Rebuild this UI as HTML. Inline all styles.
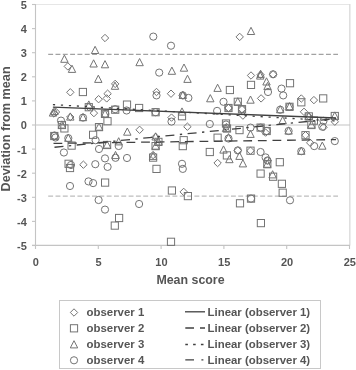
<!DOCTYPE html>
<html><head><meta charset="utf-8"><style>
html,body{margin:0;padding:0;background:#fff;}
body{width:356px;height:370px;overflow:hidden;}
svg{display:block;will-change:transform;filter:blur(0.3px);font-family:"Liberation Sans",sans-serif;}
</style></head><body>
<svg width="356" height="370" viewBox="0 0 356 370">
<rect width="356" height="370" fill="#fff"/>
<!-- frame -->
<line x1="35" y1="4.5" x2="350" y2="4.5" stroke="#e6e6e6" stroke-width="1"/>
<line x1="349.8" y1="4" x2="349.8" y2="245.5" stroke="#dcdcdc" stroke-width="1.4"/>
<g stroke="#c4c4c4" stroke-width="1.1">
<line x1="35.5" y1="4" x2="35.5" y2="246"/>
<line x1="32" y1="245.4" x2="350" y2="245.4"/>
<line x1="35.5" y1="125.0" x2="350" y2="125.0"/>
<line x1="32" y1="4.5" x2="35.5" y2="4.5"/><line x1="32" y1="28.6" x2="35.5" y2="28.6"/><line x1="32" y1="52.7" x2="35.5" y2="52.7"/><line x1="32" y1="76.8" x2="35.5" y2="76.8"/><line x1="32" y1="100.9" x2="35.5" y2="100.9"/><line x1="32" y1="125.0" x2="35.5" y2="125.0"/><line x1="32" y1="149.1" x2="35.5" y2="149.1"/><line x1="32" y1="173.2" x2="35.5" y2="173.2"/><line x1="32" y1="197.3" x2="35.5" y2="197.3"/><line x1="32" y1="221.4" x2="35.5" y2="221.4"/><line x1="32" y1="245.5" x2="35.5" y2="245.5"/>
<line x1="35.5" y1="245" x2="35.5" y2="249"/><line x1="98.3" y1="245" x2="98.3" y2="249"/><line x1="161.1" y1="245" x2="161.1" y2="249"/><line x1="223.9" y1="245" x2="223.9" y2="249"/><line x1="286.7" y1="245" x2="286.7" y2="249"/><line x1="349.5" y1="245" x2="349.5" y2="249"/>
</g>
<!-- limits -->
<g stroke="#a2a2a2" stroke-width="1.2" stroke-dasharray="4.9 2.41">
<line x1="48.2" y1="54.3" x2="338" y2="54.3"/>
<line x1="48.2" y1="196.1" x2="338" y2="196.1" stroke="#bdbdbd"/>
</g>
<!-- markers -->
<g fill="none" stroke="#747474" stroke-width="1.0">
<path d="M67.8 62.7L71.5 66.4L67.8 70.1L64.1 66.4Z"/><path d="M105.0 34.3L108.7 38.0L105.0 41.7L101.3 38.0Z"/><path d="M239.7 33.2L243.4 36.9L239.7 40.6L236.0 36.9Z"/><path d="M251.0 71.8L254.7 75.5L251.0 79.2L247.3 75.5Z"/><path d="M70.3 88.6L74.0 92.3L70.3 96.0L66.6 92.3Z"/><path d="M98.6 95.5L102.3 99.2L98.6 102.9L94.9 99.2Z"/><path d="M56.0 108.3L59.7 112.0L56.0 115.7L52.3 112.0Z"/><path d="M70.3 113.3L74.0 117.0L70.3 120.7L66.6 117.0Z"/><path d="M88.8 103.5L92.5 107.2L88.8 110.9L85.1 107.2Z"/><path d="M93.9 109.4L97.6 113.1L93.9 116.8L90.2 113.1Z"/><path d="M115.2 80.2L118.9 83.9L115.2 87.6L111.5 83.9Z"/><path d="M107.6 90.0L111.3 93.7L107.6 97.4L103.9 93.7Z"/><path d="M106.7 94.7L110.4 98.4L106.7 102.1L103.0 98.4Z"/><path d="M156.5 88.3L160.2 92.0L156.5 95.7L152.8 92.0Z"/><path d="M171.0 90.0L174.7 93.7L171.0 97.4L167.3 93.7Z"/><path d="M182.8 91.7L186.5 95.4L182.8 99.1L179.1 95.4Z"/><path d="M261.1 94.7L264.8 98.4L261.1 102.1L257.4 98.4Z"/><path d="M228.5 104.3L232.2 108.0L228.5 111.7L224.8 108.0Z"/><path d="M242.0 105.5L245.7 109.2L242.0 112.9L238.3 109.2Z"/><path d="M242.9 111.9L246.6 115.6L242.9 119.3L239.2 115.6Z"/><path d="M273.1 70.6L276.8 74.3L273.1 78.0L269.4 74.3Z"/><path d="M301.3 94.8L305.0 98.5L301.3 102.2L297.6 98.5Z"/><path d="M313.9 96.4L317.6 100.1L313.9 103.8L310.2 100.1Z"/><path d="M304.0 108.1L307.7 111.8L304.0 115.5L300.3 111.8Z"/><path d="M308.8 112.7L312.5 116.4L308.8 120.1L305.1 116.4Z"/><path d="M334.8 118.0L338.5 121.7L334.8 125.4L331.1 121.7Z"/><path d="M139.6 126.1L143.3 129.8L139.6 133.5L135.9 129.8Z"/><path d="M155.6 133.2L159.3 136.9L155.6 140.6L151.9 136.9Z"/><path d="M187.4 123.0L191.1 126.7L187.4 130.4L183.7 126.7Z"/><path d="M265.6 128.9L269.3 132.6L265.6 136.3L261.9 132.6Z"/><path d="M217.6 159.3L221.3 163.0L217.6 166.7L213.9 163.0Z"/><path d="M237.8 146.7L241.5 150.4L237.8 154.1L234.1 150.4Z"/><path d="M250.5 147.0L254.2 150.7L250.5 154.4L246.8 150.7Z"/><path d="M305.5 131.5L309.2 135.2L305.5 138.9L301.8 135.2Z"/><path d="M310.2 139.1L313.9 142.8L310.2 146.5L306.5 142.8Z"/><path d="M267.5 156.8L271.2 160.5L267.5 164.2L263.8 160.5Z"/><path d="M323.5 123.6L327.2 127.3L323.5 131.0L319.8 127.3Z"/><path d="M83.4 161.0L87.1 164.7L83.4 168.4L79.7 164.7Z"/><path d="M183.7 188.2L187.4 191.9L183.7 195.6L180.0 191.9Z"/><path d="M260.6 71.1L264.3 74.8L260.6 78.5L256.9 74.8Z"/><path d="M153.1 151.3L156.8 155.0L153.1 158.7L149.4 155.0Z"/><path d="M54.0 109.8L57.7 113.5L54.0 117.2L50.3 113.5Z"/><path d="M171.5 113.9L175.2 117.6L171.5 121.3L167.8 117.6Z"/><path d="M226.5 123.3L230.2 127.0L226.5 130.7L222.8 127.0Z"/><rect x="79.3" y="88.4" width="7.2" height="7.2"/><rect x="85.2" y="103.6" width="7.2" height="7.2"/><rect x="123.4" y="101.0" width="7.2" height="7.2"/><rect x="111.6" y="106.1" width="7.2" height="7.2"/><rect x="135.5" y="104.4" width="7.2" height="7.2"/><rect x="152.0" y="108.6" width="7.2" height="7.2"/><rect x="101.4" y="110.3" width="7.2" height="7.2"/><rect x="103.9" y="117.6" width="7.2" height="7.2"/><rect x="178.4" y="112.6" width="7.2" height="7.2"/><rect x="226.3" y="86.4" width="7.2" height="7.2"/><rect x="247.4" y="81.3" width="7.2" height="7.2"/><rect x="234.2" y="98.2" width="7.2" height="7.2"/><rect x="224.9" y="104.4" width="7.2" height="7.2"/><rect x="238.4" y="105.6" width="7.2" height="7.2"/><rect x="286.4" y="79.6" width="7.2" height="7.2"/><rect x="297.7" y="98.7" width="7.2" height="7.2"/><rect x="319.6" y="94.8" width="7.2" height="7.2"/><rect x="285.9" y="103.2" width="7.2" height="7.2"/><rect x="305.2" y="112.8" width="7.2" height="7.2"/><rect x="310.3" y="117.0" width="7.2" height="7.2"/><rect x="331.2" y="112.4" width="7.2" height="7.2"/><rect x="58.3" y="121.4" width="7.2" height="7.2"/><rect x="60.8" y="124.8" width="7.2" height="7.2"/><rect x="50.7" y="132.4" width="7.2" height="7.2"/><rect x="68.0" y="142.0" width="7.2" height="7.2"/><rect x="89.5" y="131.2" width="7.2" height="7.2"/><rect x="95.4" y="123.5" width="7.2" height="7.2"/><rect x="65.0" y="160.2" width="7.2" height="7.2"/><rect x="66.4" y="164.4" width="7.2" height="7.2"/><rect x="103.5" y="141.4" width="7.2" height="7.2"/><rect x="152.0" y="142.5" width="7.2" height="7.2"/><rect x="149.5" y="154.0" width="7.2" height="7.2"/><rect x="152.9" y="165.3" width="7.2" height="7.2"/><rect x="101.5" y="179.0" width="7.2" height="7.2"/><rect x="154.8" y="138.3" width="7.2" height="7.2"/><rect x="180.1" y="136.6" width="7.2" height="7.2"/><rect x="179.2" y="142.5" width="7.2" height="7.2"/><rect x="206.2" y="148.4" width="7.2" height="7.2"/><rect x="235.9" y="126.5" width="7.2" height="7.2"/><rect x="257.0" y="124.0" width="7.2" height="7.2"/><rect x="214.0" y="134.1" width="7.2" height="7.2"/><rect x="223.3" y="151.8" width="7.2" height="7.2"/><rect x="246.9" y="147.1" width="7.2" height="7.2"/><rect x="263.7" y="160.6" width="7.2" height="7.2"/><rect x="257.0" y="170.0" width="7.2" height="7.2"/><rect x="269.5" y="173.1" width="7.2" height="7.2"/><rect x="307.8" y="121.4" width="7.2" height="7.2"/><rect x="263.1" y="127.4" width="7.2" height="7.2"/><rect x="301.9" y="131.6" width="7.2" height="7.2"/><rect x="276.2" y="158.6" width="7.2" height="7.2"/><rect x="115.5" y="214.4" width="7.2" height="7.2"/><rect x="111.2" y="222.0" width="7.2" height="7.2"/><rect x="168.3" y="186.9" width="7.2" height="7.2"/><rect x="184.3" y="192.5" width="7.2" height="7.2"/><rect x="236.4" y="199.7" width="7.2" height="7.2"/><rect x="247.4" y="195.0" width="7.2" height="7.2"/><rect x="257.3" y="219.5" width="7.2" height="7.2"/><rect x="278.3" y="180.2" width="7.2" height="7.2"/><rect x="279.1" y="189.1" width="7.2" height="7.2"/><rect x="167.4" y="238.2" width="7.2" height="7.2"/><rect x="222.4" y="119.9" width="7.2" height="7.2"/><rect x="223.4" y="124.9" width="7.2" height="7.2"/><path d="M260.2 71.9L263.9 79.1L256.5 79.1Z"/><path d="M64.4 55.1L68.1 62.3L60.7 62.3Z"/><path d="M72.0 65.2L75.7 72.4L68.3 72.4Z"/><path d="M95.1 46.3L98.8 53.5L91.4 53.5Z"/><path d="M93.6 59.8L97.3 67.0L89.9 67.0Z"/><path d="M105.0 60.6L108.7 67.8L101.3 67.8Z"/><path d="M139.6 58.5L143.3 65.7L135.9 65.7Z"/><path d="M184.0 64.0L187.7 71.2L180.3 71.2Z"/><path d="M171.9 67.1L175.6 74.3L168.2 74.3Z"/><path d="M251.0 27.3L254.7 34.5L247.3 34.5Z"/><path d="M98.3 75.2L102.0 82.4L94.6 82.4Z"/><path d="M53.0 108.9L56.7 116.1L49.3 116.1Z"/><path d="M70.3 112.9L74.0 120.1L66.6 120.1Z"/><path d="M83.0 113.5L86.7 120.7L79.3 120.7Z"/><path d="M88.8 100.9L92.5 108.1L85.1 108.1Z"/><path d="M115.0 82.1L118.7 89.3L111.3 89.3Z"/><path d="M105.0 109.8L108.7 117.0L101.3 117.0Z"/><path d="M187.5 75.2L191.2 82.4L183.8 82.4Z"/><path d="M182.8 91.3L186.5 98.5L179.1 98.5Z"/><path d="M210.3 94.6L214.0 101.8L206.6 101.8Z"/><path d="M182.0 107.9L185.7 115.1L178.3 115.1Z"/><path d="M260.6 70.2L264.3 77.4L256.9 77.4Z"/><path d="M266.5 77.8L270.2 85.0L262.8 85.0Z"/><path d="M217.6 84.2L221.3 91.4L213.9 91.4Z"/><path d="M237.8 97.7L241.5 104.9L234.1 104.9Z"/><path d="M250.5 96.0L254.2 103.2L246.8 103.2Z"/><path d="M280.2 105.6L283.9 112.8L276.5 112.8Z"/><path d="M289.5 102.7L293.2 109.9L285.8 109.9Z"/><path d="M308.8 112.3L312.5 119.5L305.1 119.5Z"/><path d="M282.7 116.5L286.4 123.7L279.0 123.7Z"/><path d="M334.8 111.9L338.5 119.1L331.1 119.1Z"/><path d="M61.9 120.9L65.6 128.1L58.2 128.1Z"/><path d="M68.3 134.1L72.0 141.3L64.6 141.3Z"/><path d="M99.0 123.0L102.7 130.2L95.3 130.2Z"/><path d="M127.3 128.0L131.0 135.2L123.6 135.2Z"/><path d="M107.1 140.9L110.8 148.1L103.4 148.1Z"/><path d="M118.7 137.7L122.4 144.9L115.0 144.9Z"/><path d="M155.6 132.8L159.3 140.0L151.9 140.0Z"/><path d="M155.6 142.0L159.3 149.2L151.9 149.2Z"/><path d="M115.5 151.4L119.2 158.6L111.8 158.6Z"/><path d="M153.1 152.2L156.8 159.4L149.4 159.4Z"/><path d="M158.4 137.8L162.1 145.0L154.7 145.0Z"/><path d="M250.5 130.2L254.2 137.4L246.8 137.4Z"/><path d="M228.5 133.6L232.2 140.8L224.8 140.8Z"/><path d="M223.5 145.9L227.2 153.1L219.8 153.1Z"/><path d="M229.4 155.5L233.1 162.7L225.7 162.7Z"/><path d="M239.5 152.2L243.2 159.4L235.8 159.4Z"/><path d="M242.9 159.7L246.6 166.9L239.2 166.9Z"/><path d="M267.3 160.1L271.0 167.3L263.6 167.3Z"/><path d="M311.4 120.9L315.1 128.1L307.7 128.1Z"/><path d="M288.6 126.9L292.3 134.1L284.9 134.1Z"/><path d="M322.3 142.0L326.0 149.2L318.6 149.2Z"/><path d="M301.3 147.1L305.0 154.3L297.6 154.3Z"/><path d="M272.6 170.7L276.3 177.9L268.9 177.9Z"/><path d="M267.5 82.4L271.2 89.6L263.8 89.6Z"/><path d="M54.5 107.4L58.2 114.6L50.8 114.6Z"/><path d="M226.0 124.4L229.7 131.6L222.3 131.6Z"/><circle cx="153.3" cy="36.6" r="3.6"/><circle cx="171.0" cy="45.7" r="3.6"/><circle cx="159.2" cy="72.6" r="3.6"/><circle cx="61.0" cy="120.6" r="3.6"/><circle cx="83.0" cy="117.6" r="3.6"/><circle cx="115.2" cy="109.2" r="3.6"/><circle cx="126.6" cy="110.5" r="3.6"/><circle cx="156.5" cy="95.4" r="3.6"/><circle cx="155.6" cy="112.2" r="3.6"/><circle cx="188.4" cy="97.9" r="3.6"/><circle cx="182.8" cy="95.4" r="3.6"/><circle cx="209.8" cy="124.0" r="3.6"/><circle cx="223.5" cy="101.8" r="3.6"/><circle cx="217.1" cy="110.9" r="3.6"/><circle cx="228.5" cy="108.0" r="3.6"/><circle cx="242.0" cy="109.2" r="3.6"/><circle cx="273.1" cy="74.3" r="3.6"/><circle cx="268.0" cy="92.0" r="3.6"/><circle cx="281.5" cy="88.6" r="3.6"/><circle cx="283.2" cy="95.4" r="3.6"/><circle cx="280.2" cy="109.7" r="3.6"/><circle cx="289.5" cy="106.8" r="3.6"/><circle cx="323.5" cy="120.9" r="3.6"/><circle cx="54.3" cy="136.0" r="3.6"/><circle cx="68.3" cy="138.2" r="3.6"/><circle cx="95.6" cy="140.2" r="3.6"/><circle cx="99.0" cy="149.0" r="3.6"/><circle cx="63.9" cy="152.5" r="3.6"/><circle cx="71.0" cy="165.0" r="3.6"/><circle cx="95.3" cy="164.2" r="3.6"/><circle cx="118.7" cy="146.0" r="3.6"/><circle cx="105.0" cy="158.4" r="3.6"/><circle cx="115.5" cy="157.8" r="3.6"/><circle cx="127.0" cy="158.0" r="3.6"/><circle cx="107.6" cy="166.9" r="3.6"/><circle cx="182.0" cy="163.8" r="3.6"/><circle cx="182.8" cy="168.9" r="3.6"/><circle cx="250.5" cy="127.6" r="3.6"/><circle cx="260.6" cy="127.6" r="3.6"/><circle cx="237.8" cy="150.4" r="3.6"/><circle cx="260.6" cy="152.0" r="3.6"/><circle cx="265.6" cy="157.4" r="3.6"/><circle cx="266.7" cy="131.0" r="3.6"/><circle cx="288.6" cy="131.0" r="3.6"/><circle cx="322.3" cy="126.7" r="3.6"/><circle cx="314.2" cy="146.1" r="3.6"/><circle cx="301.3" cy="151.2" r="3.6"/><circle cx="267.5" cy="160.5" r="3.6"/><circle cx="334.8" cy="141.1" r="3.6"/><circle cx="70.0" cy="186.0" r="3.6"/><circle cx="88.5" cy="181.4" r="3.6"/><circle cx="93.1" cy="183.1" r="3.6"/><circle cx="98.6" cy="200.0" r="3.6"/><circle cx="105.0" cy="209.6" r="3.6"/><circle cx="139.1" cy="204.0" r="3.6"/><circle cx="251.0" cy="198.6" r="3.6"/><circle cx="290.0" cy="200.3" r="3.6"/><circle cx="54.5" cy="135.5" r="3.6"/><circle cx="55.5" cy="137.5" r="3.6"/><circle cx="171.5" cy="121.6" r="3.6"/><circle cx="226.0" cy="124.5" r="3.6"/><circle cx="228.5" cy="138.5" r="3.6"/><circle cx="105.3" cy="114.0" r="3.6"/>
</g>
<!-- regression lines -->
<g stroke="#404040" stroke-width="1.3" fill="none">
<line x1="52.9" y1="107.1" x2="336" y2="118.0"/>
<line x1="53.5" y1="143.4" x2="336" y2="139.6" stroke-dasharray="8.8 5.8"/>
<line x1="52.9" y1="104.6" x2="336" y2="121.0" stroke-dasharray="2.2 5.8"/>
<line x1="53" y1="147.4" x2="336" y2="118.6" stroke-dasharray="9 5.5 2.3 5.5" stroke-dashoffset="-1.5"/>
</g>
<!-- tick labels -->
<g fill="#555555" font-size="11" font-weight="bold">
<text x="26.8" y="8.9" text-anchor="end">5</text><text x="26.8" y="33.0" text-anchor="end">4</text><text x="26.8" y="57.1" text-anchor="end">3</text><text x="26.8" y="81.2" text-anchor="end">2</text><text x="26.8" y="105.3" text-anchor="end">1</text><text x="26.8" y="129.4" text-anchor="end">0</text><text x="26.8" y="153.5" text-anchor="end">-1</text><text x="26.8" y="177.6" text-anchor="end">-2</text><text x="26.8" y="201.7" text-anchor="end">-3</text><text x="26.8" y="225.8" text-anchor="end">-4</text><text x="26.8" y="249.9" text-anchor="end">-5</text>
<text x="35.8" y="266" text-anchor="middle">0</text><text x="98.6" y="266" text-anchor="middle">5</text><text x="161.4" y="266" text-anchor="middle">10</text><text x="224.2" y="266" text-anchor="middle">15</text><text x="287.0" y="266" text-anchor="middle">20</text><text x="349.8" y="266" text-anchor="middle">25</text>
</g>
<text x="190.5" y="284.3" text-anchor="middle" fill="#555555" font-size="12.4" font-weight="bold">Mean score</text>
<text transform="translate(9.9,128.9) rotate(-90)" text-anchor="middle" fill="#555555" font-size="12.65" font-weight="bold">Deviation from mean</text>
<!-- legend -->
<rect x="59.5" y="300.5" width="261" height="68" fill="none" stroke="#c8c8c8" stroke-width="1"/>
<g fill="none" stroke="#747474" stroke-width="1.0">
<path d="M74.0 308.8L77.7 312.5L74.0 316.2L70.3 312.5Z"/><rect x="70.4" y="324.7" width="7.2" height="7.2"/><path d="M74.0 340.7L77.7 347.9L70.3 347.9Z"/><circle cx="74.0" cy="360.3" r="3.6"/>
</g>
<g stroke="#404040" stroke-width="1.3">
<line x1="185" y1="311.8" x2="205" y2="311.8"/>
<line x1="185.3" y1="328" x2="205" y2="328" stroke-dasharray="8.7 6"/>
<line x1="185.3" y1="344.5" x2="205" y2="344.5" stroke-dasharray="2.6 5.2"/>
<line x1="185.3" y1="359.8" x2="205" y2="359.8" stroke-dasharray="8.7 7.4 2 10"/>
</g>
<g fill="#555555" font-size="11.4" font-weight="bold">
<text x="86.6" y="316.4">observer 1</text>
<text x="86.6" y="332.4">observer 2</text>
<text x="86.6" y="348.4">observer 3</text>
<text x="86.6" y="364.4">observer 4</text>
<text x="207.6" y="316.4">Linear (observer 1)</text>
<text x="207.6" y="332.4">Linear (observer 2)</text>
<text x="207.6" y="348.4">Linear (observer 3)</text>
<text x="207.6" y="364.4">Linear (observer 4)</text>
</g>
</svg>
</body></html>
